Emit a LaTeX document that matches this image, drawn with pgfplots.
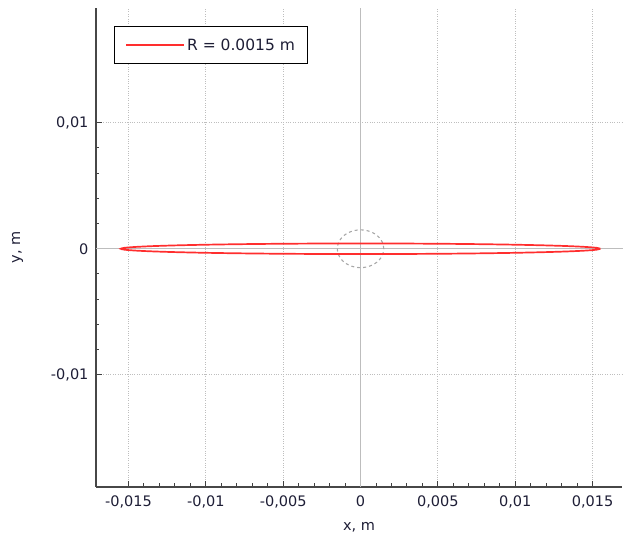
\documentclass[border=0pt]{standalone}
\usepackage{pgfplots}
\pgfplotsset{compat=1.18}
\usepackage{fontspec}
\setmainfont{DejaVu Sans}
\definecolor{txt}{HTML}{1E1E36}
\definecolor{gridc}{HTML}{BEBEBE}
\definecolor{zeroc}{HTML}{BDBDBD}
\definecolor{ell}{HTML}{FF2E2E}
\definecolor{circ}{HTML}{A8A8A8}
\begin{document}
\begin{tikzpicture}
\begin{axis}[
  scale only axis, width=526pt, height=479pt,
  xmin=-0.0171, xmax=0.0169, ymin=-0.0189, ymax=0.0191,
  scaled ticks=false,
  axis x line*=bottom, axis y line*=left,
  axis line style={-, color=black!72, line width=1.3pt},
  xtick={-0.015,-0.01,-0.005,0,0.005,0.01,0.015},
  xticklabels={{-0,015},{-0,01},{-0,005},{0},{0,005},{0,01},{0,015}},
  ytick={-0.01,0,0.01},
  yticklabels={{-0,01},{0},{0,01}},
  minor x tick num=4, minor y tick num=4,
  tick align=inside,
  major tick length=6pt, minor tick length=3.5pt,
  tick style={color=black!75, line width=1pt},
  grid=major,
  major grid style={dotted, color=gridc, line width=0.9pt},
  ticklabel style={font=\fontsize{14.5}{16}\selectfont, text=txt},
  xticklabel style={yshift=-5pt},
  yticklabel style={xshift=-4pt},
  label style={font=\fontsize{14.5}{16}\selectfont, text=txt},
  xlabel={x, m}, ylabel={y, m},
  xlabel style={yshift=-8pt},
  ylabel style={yshift=21pt},
  legend style={at={(0.034,0.962)}, anchor=north west, draw=black, line width=1pt,
    font=\fontsize{15.5}{17}\selectfont, text=txt, inner xsep=11pt, inner ysep=10pt,
    legend cell align=left},
  legend image code/.code={\draw[ell, line width=1.3pt] (0pt,0pt) -- (36pt,0pt); \path (0pt,0pt) -- (58pt,0pt);},
  clip=false,
]
\coordinate (SW) at (rel axis cs:0,0);
\coordinate (NE) at (rel axis cs:1,1);
\draw[zeroc, line width=1pt] ({axis cs:0,0}|-{rel axis cs:0,0}) -- ({axis cs:0,0}|-{rel axis cs:0,1});
\draw[zeroc, line width=1pt] ({axis cs:0,0}-|{rel axis cs:0,0}) -- ({axis cs:0,0}-|{rel axis cs:1,0});
\addplot[circ, dashed, line width=1.1pt, smooth, forget plot] coordinates {
(0.0015,0) (0.001449,0.000388) (0.001299,0.00075) (0.001061,0.001061) (0.00075,0.001299) (0.000388,0.001449)
(0,0.0015) (-0.000388,0.001449) (-0.00075,0.001299) (-0.001061,0.001061) (-0.001299,0.00075) (-0.001449,0.000388)
(-0.0015,0) (-0.001449,-0.000388) (-0.001299,-0.00075) (-0.001061,-0.001061) (-0.00075,-0.001299) (-0.000388,-0.001449)
(0,-0.0015) (0.000388,-0.001449) (0.00075,-0.001299) (0.001061,-0.001061) (0.001299,-0.00075) (0.001449,-0.000388)
(0.0015,0)};
\addplot[ell, line width=1.7pt, smooth] coordinates {
(0.0155,0) (0.015265,0.0000729) (0.014565,0.0001436) (0.013423,0.00021) (0.011873,0.00027) (0.009963,0.0003217)
(0.00775,0.0003637) (0.005301,0.0003947) (0.002691,0.0004136) (0,0.00042)
(-0.002691,0.0004136) (-0.005301,0.0003947) (-0.00775,0.0003637) (-0.009963,0.0003217) (-0.011873,0.00027)
(-0.013423,0.00021) (-0.014565,0.0001436) (-0.015265,0.0000729) (-0.0155,0)
(-0.015265,-0.0000729) (-0.014565,-0.0001436) (-0.013423,-0.00021) (-0.011873,-0.00027) (-0.009963,-0.0003217)
(-0.00775,-0.0003637) (-0.005301,-0.0003947) (-0.002691,-0.0004136) (0,-0.00042)
(0.002691,-0.0004136) (0.005301,-0.0003947) (0.00775,-0.0003637) (0.009963,-0.0003217) (0.011873,-0.00027)
(0.013423,-0.00021) (0.014565,-0.0001436) (0.015265,-0.0000729) (0.0155,0)};
\addlegendentry{R = 0.0015 m}
\end{axis}
\path (SW) ++(-96pt,-48pt);
\path (NE) ++(2pt,8pt);
\end{tikzpicture}
\end{document}
